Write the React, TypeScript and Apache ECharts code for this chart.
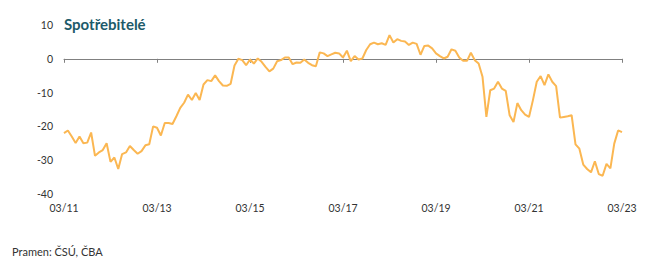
import React, { useEffect, useRef } from "react";
import * as echarts from "echarts";

// Monthly consumer confidence balance, 03/2011 .. 03/2023
const values2011to2014: number[] = [
  -22, -21.2, -23, -24.9, -23, -25, -24.8, -21.8, -28.7, -27.7, -27, -25,
  -30.5, -29.2, -32.6, -28.2, -27.7, -25.8, -27, -28.1, -27.3, -25.6, -25.3, -20,
  -20.4, -22.7, -19, -19, -19.3, -17, -14.5, -13, -10.6, -12.2, -10.1, -12.2,
  -7.6, -6.3, -6.6, -4.9, -6.6, -7.9, -8, -7.4, -2, 0,
];
const values2015to2018: number[] = [
  -0.4, -1.9, -0.2, -1.4, 0.1, -0.9, -2.4, -3.7, -2.9, -0.7, -0.4, 0.4,
  0.4, -1.6, -1.1, -1.2, -0.2, -1.2, -1.9, -2.2, 1.9, 1.6, 0.8, 1.3,
  1.8, 1.6, 0.4, 2.4, -0.7, 0.8, -0.2, 0.1, 2.6, 4.3, 4.8, 4.3,
  4.6, 4.1, 7.0, 4.8, 5.8, 5.3, 5.1, 4.1, 4.8, 4.4,
];
const values2019to2023: number[] = [
  1.2, 3.8, 3.9, 3.1, 1.6, 0.8, 0.1, 0.6, 2.8, 2.4, 0.4, -0.6,
  -0.6, 1.8, -0.4, -1.4, -5.3, -17.2, -9.3, -8.8, -6.8, -8.8, -9.5, -16.7,
  -18.7, -13.1, -15.2, -16.5, -17.2, -12.3, -6.8, -5.1, -7.8, -4.6, -6.8, -8.1,
  -17.4, -17.2, -17.0, -16.7, -25.3, -26.6, -31.3, -32.6, -33.6, -30.3, -34.1, -34.6,
  -31.1, -32.4, -25.1, -21.2, -21.7,
];
const seriesValues: number[] = [...values2011to2014, ...values2015to2018, ...values2019to2023];

const startYear = 2011;
const startMonth = 3;
const months: string[] = seriesValues.map((_, i) => {
  const m = ((startMonth - 1 + i) % 12) + 1;
  const y = startYear + Math.floor((startMonth - 1 + i) / 12);
  return `${String(m).padStart(2, "0")}/${String(y % 100).padStart(2, "0")}`;
});

const yTicks = { min: -40, max: 10, interval: 10 };
const title = "Spotřebitelé";
const source = "Pramen: ČSÚ, ČBA";

export default function App() {
  const ref = useRef<HTMLDivElement>(null);
  useEffect(() => {
    if (!ref.current) return;
    const chart = echarts.init(ref.current, null, { renderer: "svg" });
    const font = "Lato, 'Open Sans', sans-serif";
    chart.setOption({
      animation: false,
      backgroundColor: "#ffffff",
      grid: { left: 64, right: 38, top: 25, bottom: 71, containLabel: false },
      xAxis: [
        {
          type: "category",
          data: months,
          boundaryGap: false,
          position: "bottom",
          axisLine: { show: false, onZero: false },
          axisTick: { show: false },
          axisLabel: {
            interval: 23,
            margin: 8,
            color: "#333333",
            fontSize: 10.5,
            fontFamily: font,
          },
          splitLine: { show: false },
        },
        {
          type: "category",
          data: months,
          boundaryGap: false,
          position: "bottom",
          axisLine: { show: true, onZero: true, lineStyle: { color: "#808080", width: 1 } },
          axisTick: { show: true, interval: 23, length: 4, lineStyle: { color: "#808080" } },
          axisLabel: { show: false },
          splitLine: { show: false },
        },
      ],
      yAxis: {
        type: "value",
        min: yTicks.min,
        max: yTicks.max,
        interval: yTicks.interval,
        axisLine: { show: false },
        axisTick: { show: false },
        splitLine: { show: false },
        axisLabel: { color: "#333333", fontSize: 10.5, fontFamily: font, margin: 11 },
      },
      series: [
        {
          type: "line",
          data: seriesValues,
          xAxisIndex: 0,
          symbol: "none",
          lineStyle: { color: "#fbb752", width: 2 },
          itemStyle: { color: "#fbb752" },
        },
      ],
      graphic: [
        {
          type: "text",
          left: 64,
          top: 16,
          style: {
            text: title,
            fill: "#1d5a69",
            font: `bold 15px ${font}`,
          },
        },
        {
          type: "text",
          left: 12,
          top: 246,
          style: {
            text: source,
            fill: "#333333",
            font: `11px ${font}`,
          },
        },
      ],
    });
    return () => chart.dispose();
  }, []);
  return <div ref={ref} style={{ width: 660, height: 265, position: "absolute", left: 0, top: 0 }} />;
}
